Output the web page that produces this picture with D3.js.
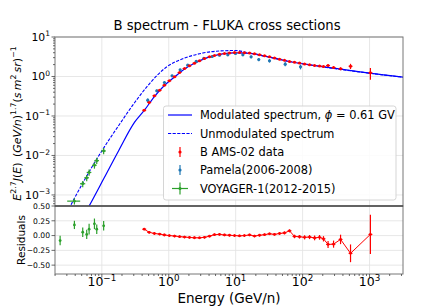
<!DOCTYPE html>
<html>
<head>
<meta charset="utf-8">
<script src="https://cdn.jsdelivr.net/npm/d3@7"></script>
<style>
body { margin: 0; background: #fff; }
text { font-family: "DejaVu Sans", sans-serif; fill: #000; }
</style>
</head>
<body>
<script>
// AMS-02 boron, E^2.7 J(E), relative errors and residuals
const amsE = [0.43, 0.51, 0.61, 0.73, 0.86, 1.02, 1.22, 1.45, 1.72, 2.04, 2.42, 2.88, 3.42, 4.06, 4.82, 5.73,
    6.80, 8.08, 9.60, 11.4, 13.5, 16.1, 19.1, 22.7, 27.0, 32.0, 38.0, 45.2, 53.6, 63.7, 75.7, 89.9,
    107, 127, 151, 179, 205, 240, 290, 369, 520, 1030]
const amsFlux = [0.140, 0.220, 0.324, 0.450, 0.602, 0.778, 0.983, 1.26, 1.59, 1.87, 2.17, 2.50, 2.86, 3.15, 3.40, 3.67,
    3.82, 3.96, 4.05, 4.05, 4.00, 3.91, 3.76, 3.54, 3.34, 3.15, 2.94, 2.74, 2.56, 2.40, 2.29, 2.18,
    2.06, 1.98, 1.90, 1.83, 1.80, 1.90, 1.69, 1.57, 1.82, 1.24]
const amsErr = [0.02, 0.02, 0.02, 0.02, 0.02, 0.02, 0.02, 0.02, 0.02, 0.02, 0.02, 0.02, 0.02, 0.02, 0.02, 0.02,
    0.02, 0.02, 0.02, 0.02, 0.02, 0.02, 0.02, 0.02, 0.02, 0.02, 0.02, 0.02, 0.025, 0.025, 0.03, 0.03,
    0.035, 0.035, 0.04, 0.04, 0.045, 0.06, 0.06, 0.08, 0.15, 0.33]
const amsRes = [0.108, 0.055, 0.035, 0.025, 0.01, 0.0, -0.008, -0.018, -0.025, -0.032, -0.037, -0.038, -0.03, -0.01, 0.015, 0.02,
    0.01, 0.005, 0.0, -0.005, 0.0, 0.01, -0.008, 0.005, 0.015, 0.03, 0.02, 0.035, 0.045, 0.08, -0.015, -0.02,
    -0.03, -0.025, -0.04, -0.03, -0.055, -0.15, -0.145, -0.065, -0.30, 0.02]

// PAMELA
const pamE = [0.485, 0.662, 0.862, 1.12, 1.48, 1.92, 2.57, 3.34, 4.45, 5.73, 7.62, 9.93, 12.8, 17.0, 22.1, 32, 55, 93]
const pamFlux = [0.251, 0.435, 0.705, 1.04, 1.48, 1.93, 2.40, 2.86, 3.21, 3.46, 3.54, 3.82, 3.54, 3.15, 2.69, 2.50, 2.05, 1.76]
const pamErr = [0.10, 0.08, 0.07, 0.06, 0.06, 0.06, 0.06, 0.06, 0.06, 0.06, 0.07, 0.07, 0.07, 0.08, 0.09, 0.10, 0.12, 0.14]

// VOYAGER-1
const voyE = [0.0238, 0.0389, 0.0518, 0.0594, 0.0645, 0.0775, 0.0839, 0.1064]
const voyEErr = [0.15, 0.22, 0.09, 0.08, 0.08, 0.08, 0.08, 0.08]
const voyFlux = [1.6e-4, 6.97e-4, 1.92e-3, 2.72e-3, 3.71e-3, 5.65e-3, 7.38e-3, 0.0130]
const voyErr = [0.18, 0.18, 0.18, 0.18, 0.18, 0.18, 0.18, 0.18]
const voyRes = [-0.085, 0.18, 0.057, 0.02, 0.108, 0.198, 0.108, 0.165]
const voyResErr = [0.08, 0.07, 0.08, 0.08, 0.09, 0.09, 0.08, 0.08]

// model curves
const modE = [0.055, 0.064, 0.107, 0.179, 0.307, 0.433, 0.61, 0.86, 1.22, 1.72, 2.42, 3.42, 4.82, 6.8, 9.6, 13.5, 19.1, 27, 38, 54, 76, 100, 180, 330, 600, 1000, 3162]
const modFlux = [3.2e-4, 5.1e-4, 2.6e-3, 0.0134, 0.0685, 0.14, 0.31, 0.59, 0.97, 1.55, 2.16, 2.84, 3.38, 3.78, 3.97, 3.92, 3.72, 3.30, 2.92, 2.53, 2.26, 2.10, 1.82, 1.58, 1.37, 1.21, 0.96]
const unmodE = [0.03, 0.0336, 0.101, 0.183, 0.326, 0.514, 0.915, 1.62, 2.88, 5.11, 9.6, 17.8, 32, 57, 100, 1000, 3162]
const unmodFlux = [3.5e-4, 5.1e-4, 0.0134, 0.061, 0.247, 0.653, 1.72, 2.81, 3.76, 4.37, 4.55, 3.76, 3.06, 2.50, 2.11, 1.21, 0.96]

const xTicks = [-1, 0, 1, 2, 3]
const yTopTicks = [-3, -2, -1, 0, 1]
const resTicks = [0.5, 0.25, 0, -0.25, -0.5]
const legendLabels = ['Modulated spectrum, ', 'Unmodulated spectrum', 'B AMS-02 data', 'Pamela(2006-2008)', 'VOYAGER-1(2012-2015)']

const W = 447, H = 308
const padL = 55, padR = 403, padT = 37, padM = 206, padB = 274

const blue = '#0000ff', red = '#ff0000', pamColor = '#1f77b4', green = '#2ca02c'

const svg = d3.select('body').append('svg').attr('width', W).attr('height', H)
svg.append('rect').attr('width', W).attr('height', H).attr('fill', '#fff')

const x = d3.scaleLog().domain([Math.pow(10, -1.7), Math.pow(10, 3.5)]).range([padL, padR])
const y = d3.scaleLog().domain([Math.pow(10, -3.28), 10]).range([padM, padT])
const yr = d3.scaleLinear().domain([-0.65, 0.5]).range([padB, padM])

const defs = svg.append('defs')
defs.append('clipPath').attr('id', 'clipTop').append('rect')
    .attr('x', padL).attr('y', padT).attr('width', padR - padL).attr('height', padM - padT)
defs.append('clipPath').attr('id', 'clipBot').append('rect')
    .attr('x', padL).attr('y', padM).attr('width', padR - padL).attr('height', padB - padM)

const minors = []
for (let e = -2; e <= 3; e++) for (let k = 2; k <= 9; k++) minors.push(k * Math.pow(10, e))

// grids
const grid = svg.append('g').attr('stroke', '#e4e4e4').attr('stroke-width', 0.9)
xTicks.forEach(e => {
    grid.append('line').attr('x1', x(Math.pow(10, e))).attr('x2', x(Math.pow(10, e))).attr('y1', padT).attr('y2', padB)
})
yTopTicks.forEach(e => {
    grid.append('line').attr('x1', padL).attr('x2', padR).attr('y1', y(Math.pow(10, e))).attr('y2', y(Math.pow(10, e)))
})
resTicks.forEach(r => {
    grid.append('line').attr('x1', padL).attr('x2', padR).attr('y1', yr(r)).attr('y2', yr(r))
})

// top panel
const gTop = svg.append('g').attr('clip-path', 'url(#clipTop)')
const line = d3.line().x(d => x(d[0])).y(d => y(d[1])).curve(d3.curveMonotoneX)

gTop.append('path').datum(d3.zip(unmodE, unmodFlux)).attr('d', line)
    .attr('fill', 'none').attr('stroke', blue).attr('stroke-width', 1.1).attr('stroke-dasharray', '3.2,1.4')
gTop.append('path').datum(d3.zip(modE, modFlux)).attr('d', line)
    .attr('fill', 'none').attr('stroke', blue).attr('stroke-width', 1.2)

function errPoints(g, xs, vs, errs, color, opts) {
    xs.forEach((e, i) => {
        const cx = x(e), cy = opts.ys(vs[i])
        const lo = opts.rel ? vs[i] * (1 - errs[i]) : vs[i] - errs[i]
        const hi = opts.rel ? vs[i] * (1 + errs[i]) : vs[i] + errs[i]
        g.append('line').attr('x1', cx).attr('x2', cx).attr('y1', opts.ys(lo)).attr('y2', opts.ys(hi))
            .attr('stroke', color).attr('stroke-width', 1.2)
        if (opts.xerr) {
            g.append('line').attr('x1', x(e * (1 - opts.xerr[i]))).attr('x2', x(e * (1 + opts.xerr[i])))
                .attr('y1', cy).attr('y2', cy).attr('stroke', color).attr('stroke-width', 1.2)
        } else if (opts.hbar) {
            g.append('line').attr('x1', cx - opts.hbar).attr('x2', cx + opts.hbar)
                .attr('y1', cy).attr('y2', cy).attr('stroke', color).attr('stroke-width', 1)
        }
        g.append('circle').attr('cx', cx).attr('cy', cy).attr('r', opts.r).attr('fill', color)
    })
}

errPoints(gTop, pamE, pamFlux, pamErr, pamColor, { ys: y, rel: true, r: 1.6 })
errPoints(gTop, voyE, voyFlux, voyErr, green, { ys: y, rel: true, r: 1.4, xerr: voyEErr })
errPoints(gTop, amsE, amsFlux, amsErr, red, { ys: y, rel: true, r: 1.5, hbar: 2 })

// residual panel
const gBot = svg.append('g').attr('clip-path', 'url(#clipBot)')
gBot.append('path').datum(d3.zip(amsE, amsRes))
    .attr('d', d3.line().x(d => x(d[0])).y(d => yr(d[1])))
    .attr('fill', 'none').attr('stroke', red).attr('stroke-width', 1)
errPoints(gBot, amsE, amsRes, amsErr, red, { ys: yr, rel: false, r: 1.4, hbar: 2 })
errPoints(gBot, voyE, voyRes, voyResErr, green, { ys: yr, rel: false, r: 1.4 })

// frames
const frame = svg.append('g').attr('fill', 'none')
frame.append('rect').attr('x', padL).attr('y', padT).attr('width', padR - padL).attr('height', padM - padT)
    .attr('stroke', '#777').attr('stroke-width', 1)
frame.append('rect').attr('x', padL).attr('y', padM).attr('width', padR - padL).attr('height', padB - padM)
    .attr('stroke', '#777').attr('stroke-width', 1)
frame.append('line').attr('x1', padL).attr('x2', padR).attr('y1', padM).attr('y2', padM)
    .attr('stroke', '#333').attr('stroke-width', 1.1)

// ticks
const ticks = svg.append('g').attr('stroke', '#444').attr('stroke-width', 0.8)
xTicks.forEach(e => {
    const px = x(Math.pow(10, e))
    ticks.append('line').attr('x1', px).attr('x2', px).attr('y1', padB).attr('y2', padB + 3.5)
})
minors.filter(v => v > x.domain()[0] && v < x.domain()[1]).forEach(v => {
    ticks.append('line').attr('x1', x(v)).attr('x2', x(v)).attr('y1', padB).attr('y2', padB + 2)
})
yTopTicks.forEach(e => {
    const py = y(Math.pow(10, e))
    ticks.append('line').attr('x1', padL - 3.5).attr('x2', padL).attr('y1', py).attr('y2', py)
})
const yMinors = []
for (let e = -4; e <= 0; e++) for (let k = 2; k <= 9; k++) yMinors.push(k * Math.pow(10, e))
yMinors.filter(v => v > y.domain()[0] && v < y.domain()[1]).forEach(v => {
    ticks.append('line').attr('x1', padL - 2).attr('x2', padL).attr('y1', y(v)).attr('y2', y(v))
})
resTicks.forEach(r => {
    ticks.append('line').attr('x1', padL - 3.5).attr('x2', padL).attr('y1', yr(r)).attr('y2', yr(r))
})

function powText(g, px, py, e, size, anchor) {
    const t = g.append('text').attr('x', px).attr('y', py).attr('font-size', size).attr('text-anchor', anchor)
    t.append('tspan').text('10')
    t.append('tspan').attr('dy', -size * 0.42).attr('font-size', size * 0.7).text(e < 0 ? '\u2212' + (-e) : e)
    return t
}

const labels = svg.append('g')
xTicks.forEach(e => powText(labels, x(Math.pow(10, e)), 286, e, 12.5, 'middle'))
yTopTicks.forEach(e => powText(labels, padL - 5, y(Math.pow(10, e)) + 4, e, 10.8, 'end'))
resTicks.forEach(r => {
    labels.append('text').attr('x', padL - 5).attr('y', yr(r) + 2.8).attr('font-size', 7.6)
        .attr('text-anchor', 'end').text(r < 0 ? '\u2212' + d3.format('.2f')(-r) : d3.format('.2f')(r))
})

svg.append('text').attr('x', (padL + padR) / 2 - 2).attr('y', 29.5).attr('font-size', 13.2)
    .attr('text-anchor', 'middle').text('B spectrum - FLUKA cross sections')
svg.append('text').attr('x', (padL + padR) / 2).attr('y', 303).attr('font-size', 13.5)
    .attr('text-anchor', 'middle').text('Energy (GeV/n)')
svg.append('text').attr('transform', `translate(25,${(padM + padB) / 2}) rotate(-90)`)
    .attr('font-size', 10.5).attr('text-anchor', 'middle').text('Residuals')

// y label with math parts
const yLabelParts = [['E', 'i'], ['2.7', 's'], ['J', 'i'], ['(', ''], ['E', 'i'], [')', ''], ['\u2002(', ''], ['GeV/n', 'i'],
    [')', ''], ['1.7', 's'], ['(', ''], ['s', 'i'], ['\u2009', ''], ['m', 'i'], ['2', 's'], ['\u2009', ''], ['sr', 'i'], [')', ''], ['\u22121', 's']]
const yl = svg.append('text').attr('transform', `translate(20.5,${(padT + padM) / 2 + 2}) rotate(-90)`)
    .attr('font-size', 11).attr('text-anchor', 'middle')
let raised = false
yLabelParts.forEach(([s, k]) => {
    const t = yl.append('tspan').text(s)
    if (k === 'i') t.attr('font-style', 'italic')
    if (k === 's') { t.attr('font-size', 7.8); if (!raised) { t.attr('dy', -4.6); raised = true } }
    else if (raised) { t.attr('dy', 4.6); raised = false }
})

// legend
const lg = svg.append('g')
lg.append('rect').attr('x', 163.5).attr('y', 106).attr('width', 232.5).attr('height', 94).attr('rx', 2.5)
    .attr('fill', '#fff').attr('fill-opacity', 0.85).attr('stroke', '#d0d0d0').attr('stroke-width', 0.9)
const rowY = [115, 133.5, 152, 170, 188.5]
lg.append('line').attr('x1', 168).attr('x2', 192).attr('y1', rowY[0]).attr('y2', rowY[0])
    .attr('stroke', blue).attr('stroke-width', 1.2)
lg.append('line').attr('x1', 168).attr('x2', 192).attr('y1', rowY[1]).attr('y2', rowY[1])
    .attr('stroke', blue).attr('stroke-width', 1.1).attr('stroke-dasharray', '3.2,1.4')
;[[red, rowY[2]], [pamColor, rowY[3]]].forEach(([c, yy]) => {
    lg.append('line').attr('x1', 180).attr('x2', 180).attr('y1', yy - 5).attr('y2', yy + 5).attr('stroke', c).attr('stroke-width', 1.2)
    lg.append('circle').attr('cx', 180).attr('cy', yy).attr('r', 1.6).attr('fill', c)
})
lg.append('line').attr('x1', 180).attr('x2', 180).attr('y1', rowY[4] - 6).attr('y2', rowY[4] + 6).attr('stroke', green).attr('stroke-width', 1.2)
lg.append('line').attr('x1', 172).attr('x2', 188).attr('y1', rowY[4]).attr('y2', rowY[4]).attr('stroke', green).attr('stroke-width', 1.2)
lg.append('circle').attr('cx', 180).attr('cy', rowY[4]).attr('r', 1.5).attr('fill', green)

legendLabels.forEach((s, i) => {
    const t = lg.append('text').attr('x', 200).attr('y', rowY[i] + 4.1).attr('font-size', 11.4)
    t.append('tspan').text(s)
    if (i === 0) {
        t.append('tspan').attr('font-style', 'italic').text('\u03d5')
        t.append('tspan').text(' = 0.61 GV')
    }
})
</script>
</body>
</html>
